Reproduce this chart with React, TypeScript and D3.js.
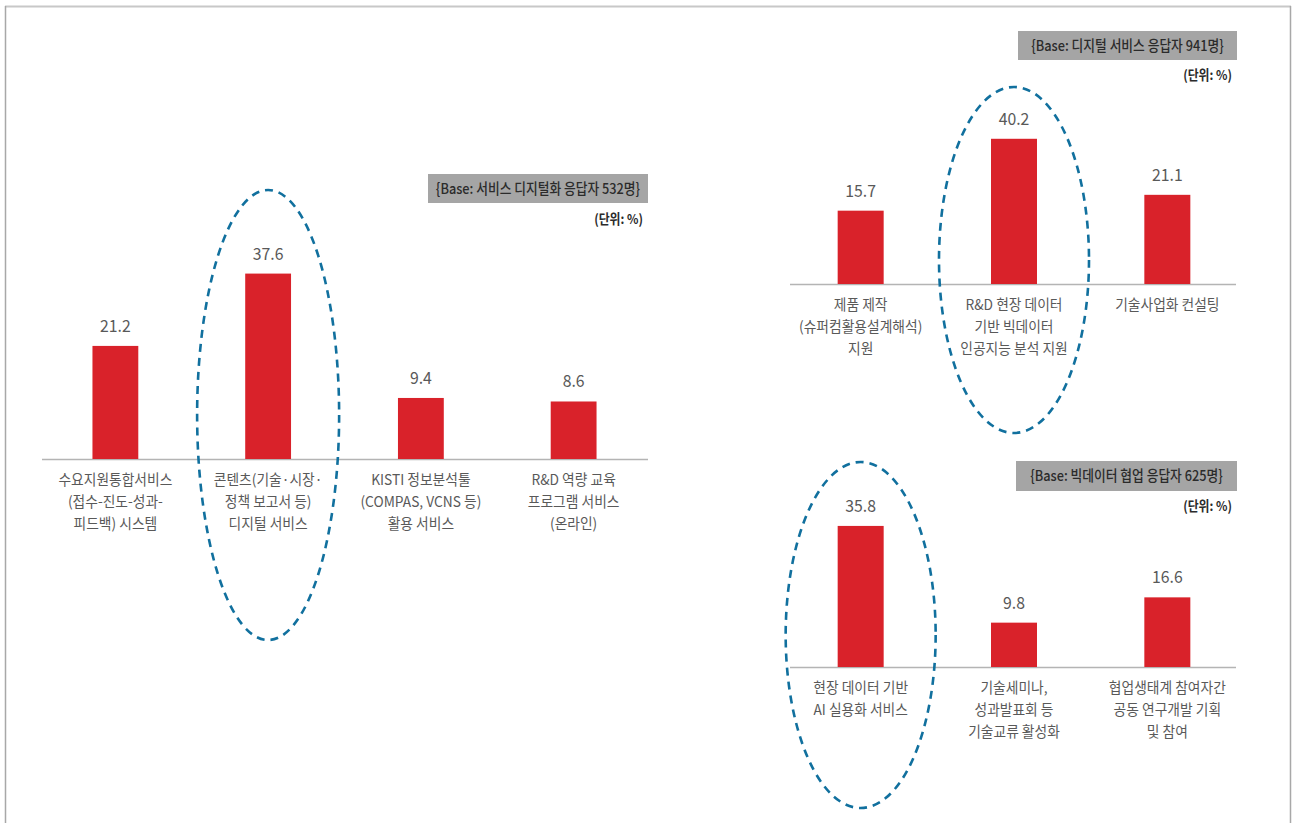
import React from "react";
import * as d3 from "d3";

const leftCategories = [
  ["수요지원통합서비스", "(접수-진도-성과-", "피드백) 시스템"],
  ["콘텐츠(기술·시장·", "정책 보고서 등)", "디지털 서비스"],
  ["KISTI 정보분석툴", "(COMPAS, VCNS 등)", "활용 서비스"],
  ["R&D 역량 교육", "프로그램 서비스", "(온라인)"],
];
const leftValues = [21.2, 37.6, 9.4, 8.6];
const leftBase = "{Base: 서비스 디지털화 응답자 532명}";

const topRightCategories = [
  ["제품 제작", "(슈퍼컴활용설계해석)", "지원"],
  ["R&D 현장 데이터", "기반 빅데이터", "인공지능 분석 지원"],
  ["기술사업화 컨설팅"],
];
const topRightValues = [15.7, 40.2, 21.1];
const topRightBase = "{Base: 디지털 서비스 응답자 941명}";

const bottomRightCategories = [
  ["현장 데이터 기반", "AI 실용화 서비스"],
  ["기술세미나,", "성과발표회 등", "기술교류 활성화"],
  ["협업생태계 참여자간", "공동 연구개발 기획", "및 참여"],
];
const bottomRightValues = [35.8, 9.8, 16.6];
const bottomRightBase = "{Base: 빅데이터 협업 응답자 625명}";

const unitLabel = "(단위: %)";

const FONT = "'Noto Sans CJK KR', 'Noto Sans', sans-serif";
const BAR = "#d9222a";
const TXT = "#595959";
const OVAL = "#11709e";

type PanelProps = {
  cats: string[][];
  vals: number[];
  base: string;
  baseline: number;
  xRange: [number, number];
  axis: [number, number];
  domain: [number, number];
  topY: number;
  box: { x: number; y: number; w: number; h: number };
  unitX: number;
  unitY: number;
  oval: { i: number; cy: number; rx: number; ry: number };
};

function CText({ x, y, size, fill, weight, anchor, sx, children }: any) {
  return (
    <text
      transform={`translate(${x},${y}) scale(${sx},1)`}
      fontSize={size}
      fill={fill}
      fontWeight={weight || 400}
      textAnchor={anchor || "middle"}
      fontFamily={FONT}
    >
      {children}
    </text>
  );
}

function Panel(p: PanelProps) {
  const keys = p.cats.map((c) => c.join(" "));
  const x = d3
    .scaleBand<string>()
    .domain(keys)
    .range(p.xRange)
    .paddingInner(0.7)
    .paddingOuter(0.35);
  const y = d3.scaleLinear().domain(p.domain).range([p.baseline, p.topY]);
  const bw = x.bandwidth();
  const ovalCx = (x(keys[p.oval.i]) as number) + bw / 2;
  return (
    <g>
      <rect x={p.box.x} y={p.box.y} width={p.box.w} height={p.box.h} fill="#a5a5a5" />
      <CText x={p.box.x + p.box.w / 2} y={p.box.y + p.box.h / 2 + 5} size={14.5} fill="#2b2b2b" weight={500} sx={0.88}>
        {p.base}
      </CText>
      <CText x={p.unitX} y={p.unitY} size={13.5} fill="#2b2b2b" weight={600} anchor="end" sx={0.88}>
        {unitLabel}
      </CText>
      <line x1={p.axis[0]} x2={p.axis[1]} y1={p.baseline + 0.5} y2={p.baseline + 0.5} stroke="#b4b4b4" strokeWidth={1.5} />
      {p.vals.map((v, i) => {
        const bx = x(keys[i]) as number;
        const top = y(v);
        return (
          <g key={i}>
            <rect x={bx} y={top} width={bw} height={p.baseline - top} fill={BAR} />
            <CText x={bx + bw / 2} y={top - 14} size={17} fill={TXT} sx={0.93}>
              {v.toFixed(1)}
            </CText>
            {p.cats[i].map((line, j) => (
              <CText key={j} x={bx + bw / 2} y={p.baseline + 26 + j * 22} size={14.5} fill={TXT} sx={0.95}>
                {line}
              </CText>
            ))}
          </g>
        );
      })}
      <ellipse
        cx={ovalCx}
        cy={p.oval.cy}
        rx={p.oval.rx}
        ry={p.oval.ry}
        fill="none"
        stroke={OVAL}
        strokeWidth={2.6}
        strokeDasharray="8 6"
      />
    </g>
  );
}

export default function App() {
  return (
    <svg
      width={1298}
      height={823}
      style={{ position: "absolute", left: 0, top: 0, background: "#fff" }}
    >
      <line x1={5} x2={1291} y1={6.5} y2={6.5} stroke="#c8c8c8" strokeWidth={2} />
      <line x1={5.5} x2={5.5} y1={6} y2={823} stroke="#a8a8a8" strokeWidth={1.5} />
      <line x1={1290.5} x2={1290.5} y1={6} y2={823} stroke="#a8a8a8" strokeWidth={1.5} />
      <Panel
        cats={leftCategories}
        vals={leftValues}
        base={leftBase}
        baseline={459}
        xRange={[39, 650]}
        axis={[42, 648]}
        domain={[-4.44, 40]}
        topY={263}
        box={{ x: 428, y: 174, w: 220, h: 29 }}
        unitX={643}
        unitY={224}
        oval={{ i: 1, cy: 415, rx: 71, ry: 225 }}
      />
      <Panel
        cats={topRightCategories}
        vals={topRightValues}
        base={topRightBase}
        baseline={284}
        xRange={[784, 1244]}
        axis={[790, 1236]}
        domain={[-9.29, 45]}
        topY={124.7}
        box={{ x: 1018, y: 31, w: 219, h: 29 }}
        unitX={1232}
        unitY={80}
        oval={{ i: 1, cy: 260, rx: 75, ry: 173 }}
      />
      <Panel
        cats={bottomRightCategories}
        vals={bottomRightValues}
        base={bottomRightBase}
        baseline={667}
        xRange={[784, 1244]}
        axis={[790, 1236]}
        domain={[-2.12, 40]}
        topY={510.3}
        box={{ x: 1016, y: 461, w: 221, h: 30 }}
        unitX={1232}
        unitY={511}
        oval={{ i: 0, cy: 635, rx: 75, ry: 173 }}
      />
    </svg>
  );
}
